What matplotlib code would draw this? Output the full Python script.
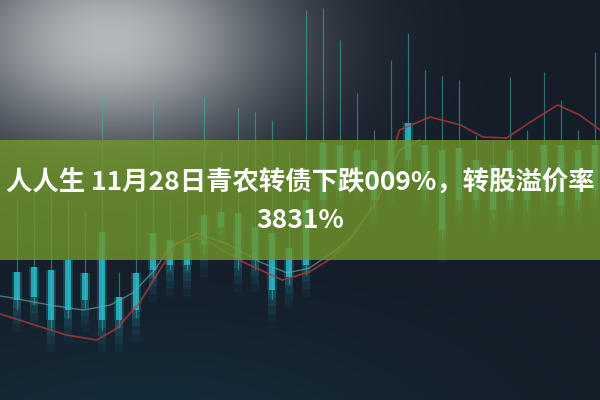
import numpy as np
import matplotlib
matplotlib.use("Agg")
import matplotlib.pyplot as plt

# candle data, price units (higher = further up the picture)
candle_idx = list(range(1, 36))
body_top = [128, 133, 130, 140, 127, 168, 103, 127, 167, 160, 157, 185, 188, 187, 173, 167, 152, 200,
            257, 255, 250, 240, 260, 277, 255, 250, 252, 240, 235, 250, 230, 255, 255, 250, 255]
body_bot = [100, 103, 80, 90, 100, 80, 80, 90, 130, 135, 135, 155, 173, 140, 140, 110, 123, 135,
            200, 210, 225, 200, 220, 240, 210, 170, 200, 200, 190, 200, 200, 210, 195, 200, 210]
wick_hi = [200, 215, 210, 200, 190, 303, 128, 200, 300, 200, 210, 303, 250, 293, 288, 280, 250, 390,
           392, 360, 307, 270, 340, 367, 330, 324, 320, 265, 260, 323, 270, 328, 300, 270, 348]
wick_lo = [90, 95, 70, 82, 92, 70, 72, 82, 120, 130, 130, 145, 165, 130, 130, 100, 115, 125,
           190, 200, 215, 190, 210, 230, 200, 160, 190, 190, 180, 190, 190, 200, 185, 190, 200]

# moving-average style curves (x in candle units, y in price units)
red_x = [0, 0.76, 3.9, 5.7, 6.9, 8.2, 9.4, 10.4, 11.8, 14.3, 16.6, 18.2, 19.6, 20.6, 22.2, 23.5,
         25.3, 27.1, 28.4, 29.8, 31.2, 32.8, 34.1, 35.3]
red_y = [86, 82, 65, 60, 72, 97, 130, 157, 163, 138, 120, 128, 143, 160, 200, 270,
         283, 275, 263, 262, 278, 295, 285, 270]
teal_x = [0, 0.76, 2.9, 4.9, 6.5, 7.8, 9.1, 10.0, 11.6, 13.5, 15.3, 16.9, 18.2, 19.6, 20.6, 22.2,
          23.5, 24.7]
teal_y = [104, 102, 95, 90, 95, 107, 130, 153, 167, 155, 138, 127, 132, 148, 162, 200,
          250, 260]

title_1 = "人人生 11月28日青农转债下跌009%，转股溢价率"
title_2 = "3831%"

W, H = 600, 400
fig = plt.figure(figsize=(6, 4), dpi=100)
ax = fig.add_axes([0, 0, 1, 1])
ax.set_xlim(0, W / 17)
ax.set_ylim(0, H)
ax.axis("off")

# background: dark navy with a grey haze in the upper left
yy, xx = np.mgrid[0:H, 0:W]
bg = np.zeros((H, W, 3))
base = np.array([20, 29, 40]) / 255
bg[:] = base
haze = np.exp(-(((xx - 110) / 170) ** 2 + ((yy - 40) / 110) ** 2))
grey = np.array([180, 184, 188]) / 255
bg = bg * (1 - haze[..., None]) + grey * haze[..., None]
low = np.clip((yy - 260) / 140, 0, 1) * np.exp(-((xx - 150) / 300) ** 2)
bg = bg + low[..., None] * np.array([0, 14, 16]) / 255
bg = np.clip(bg, 0, 1)
ax.imshow(bg, extent=[0, W / 17, 0, H], aspect="auto", origin="upper", zorder=0)

# candles, with a soft glow trailing below each body
for i, t, b, hi, lo in zip(candle_idx, body_top, body_bot, wick_hi, wick_lo):
    ax.vlines(i, lo, hi, color="#3fb4aa", lw=0.9, alpha=0.55, zorder=2)
    ax.bar(i, t - b, bottom=b, width=0.6, color="#1fb0c8", alpha=0.25, zorder=2)
    for k, a in enumerate([0.3, 0.2, 0.12, 0.06]):
        ax.bar(i, 8, bottom=b - 8 * (k + 1), width=0.42, color="#22b4cc", alpha=a, lw=0, zorder=2)
    ax.bar(i, t - b, bottom=b, width=0.4, color="#2ad0dc", alpha=0.7, lw=0, zorder=3)

ax.plot(teal_x, teal_y, color="#6aa6a6", lw=1.0, alpha=0.65, zorder=4)
ax.plot(red_x, red_y, color="#b03a3a", lw=1.2, alpha=0.8, zorder=4)

# green banner
ax.axhspan(140, 260, color="#71972b", alpha=0.8, lw=0, zorder=5)

fam = ["Noto Sans CJK SC", "DejaVu Sans"]
fig.text(0.5, 1 - 183 / 400, title_1, ha="center", va="center", color="white",
         fontsize=19, fontweight="bold", family=fam, zorder=10)
fig.text(0.5, 1 - 220 / 400, title_2, ha="center", va="center", color="white",
         fontsize=19, fontweight="bold", family=fam, zorder=10)

fig.savefig("out.png", dpi=100)
